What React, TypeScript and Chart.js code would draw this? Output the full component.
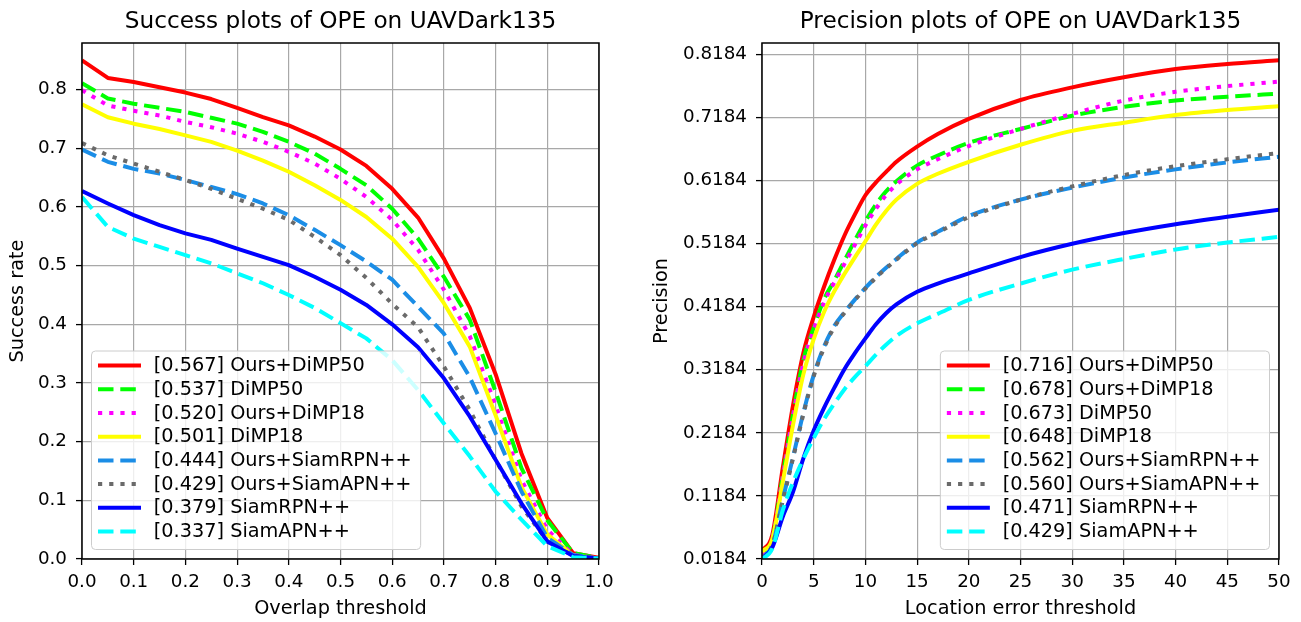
import React, { useEffect, useRef } from 'react';
import { Chart, registerables } from 'chart.js';

Chart.register(...registerables);

// ---------------- data ----------------
const successThresholds = [0, 0.05, 0.1, 0.15, 0.2, 0.25, 0.3, 0.35, 0.4, 0.45, 0.5, 0.55, 0.6, 0.65, 0.7, 0.75, 0.8, 0.85, 0.9, 0.95, 1.0];
const successNames = ['Ours+DiMP50', 'DiMP50', 'Ours+DiMP18', 'DiMP18', 'Ours+SiamRPN++', 'Ours+SiamAPN++', 'SiamRPN++', 'SiamAPN++'];
const successScores = ['0.567', '0.537', '0.520', '0.501', '0.444', '0.429', '0.379', '0.337'];
const successOursDiMP50 = [0.850, 0.820, 0.813, 0.804, 0.795, 0.784, 0.769, 0.753, 0.739, 0.720, 0.698, 0.670, 0.631, 0.582, 0.512, 0.428, 0.315, 0.180, 0.070, 0.010, 0.002];
const successDiMP50 = [0.811, 0.785, 0.776, 0.769, 0.762, 0.752, 0.742, 0.728, 0.711, 0.691, 0.665, 0.637, 0.597, 0.546, 0.481, 0.408, 0.285, 0.155, 0.066, 0.010, 0.002];
const successOursDiMP18 = [0.799, 0.773, 0.764, 0.756, 0.745, 0.736, 0.725, 0.711, 0.694, 0.674, 0.648, 0.617, 0.578, 0.527, 0.459, 0.380, 0.262, 0.135, 0.050, 0.007, 0.001];
const successDiMP18 = [0.775, 0.753, 0.742, 0.733, 0.722, 0.711, 0.696, 0.679, 0.660, 0.637, 0.612, 0.583, 0.546, 0.498, 0.436, 0.362, 0.245, 0.123, 0.042, 0.006, 0.001];
const successOursSiamRPN = [0.698, 0.677, 0.665, 0.657, 0.646, 0.634, 0.622, 0.606, 0.586, 0.561, 0.535, 0.507, 0.476, 0.430, 0.384, 0.310, 0.214, 0.115, 0.036, 0.007, 0.001];
const successOursSiamAPN = [0.709, 0.688, 0.674, 0.660, 0.646, 0.631, 0.614, 0.597, 0.578, 0.549, 0.518, 0.479, 0.435, 0.395, 0.328, 0.254, 0.169, 0.090, 0.030, 0.006, 0.001];
const successSiamRPN = [0.627, 0.606, 0.586, 0.569, 0.555, 0.544, 0.529, 0.515, 0.501, 0.481, 0.459, 0.433, 0.400, 0.361, 0.308, 0.243, 0.169, 0.095, 0.030, 0.005, 0.001];
const successSiamAPN = [0.617, 0.566, 0.546, 0.532, 0.518, 0.504, 0.487, 0.470, 0.450, 0.428, 0.402, 0.376, 0.339, 0.288, 0.231, 0.175, 0.115, 0.067, 0.022, 0.003, 0.001];
const successXTicks = [0, 0.1, 0.2, 0.3, 0.4, 0.5, 0.6, 0.7, 0.8, 0.9, 1.0];
const successYTicks = [0, 0.1, 0.2, 0.3, 0.4, 0.5, 0.6, 0.7, 0.8];

const precisionThresholds = [0, 1, 2, 3, 4, 5, 6, 7, 8, 9, 10, 11, 12, 13, 15, 17, 20, 25, 30, 35, 40, 45, 50];
const precisionNames = ['Ours+DiMP50', 'Ours+DiMP18', 'DiMP50', 'DiMP18', 'Ours+SiamRPN++', 'Ours+SiamAPN++', 'SiamRPN++', 'SiamAPN++'];
const precisionScores = ['0.716', '0.678', '0.673', '0.648', '0.562', '0.560', '0.471', '0.429'];
const precisionOursDiMP50 = [0.031, 0.057, 0.162, 0.262, 0.345, 0.402, 0.450, 0.493, 0.532, 0.565, 0.595, 0.615, 0.632, 0.648, 0.672, 0.692, 0.716, 0.746, 0.766, 0.782, 0.795, 0.803, 0.809];
const precisionOursDiMP18 = [0.025, 0.050, 0.150, 0.248, 0.334, 0.385, 0.430, 0.460, 0.492, 0.524, 0.554, 0.580, 0.601, 0.617, 0.642, 0.658, 0.678, 0.700, 0.721, 0.735, 0.745, 0.751, 0.756];
const precisionDiMP50 = [0.025, 0.050, 0.148, 0.245, 0.328, 0.382, 0.425, 0.457, 0.487, 0.517, 0.547, 0.573, 0.595, 0.612, 0.636, 0.652, 0.673, 0.700, 0.724, 0.745, 0.759, 0.768, 0.775];
const precisionDiMP18 = [0.030, 0.050, 0.140, 0.231, 0.311, 0.367, 0.410, 0.443, 0.471, 0.497, 0.522, 0.548, 0.570, 0.588, 0.613, 0.629, 0.648, 0.675, 0.697, 0.710, 0.722, 0.730, 0.736];
const precisionOursSiamRPN = [0.020, 0.040, 0.112, 0.180, 0.250, 0.310, 0.355, 0.388, 0.410, 0.430, 0.448, 0.465, 0.480, 0.494, 0.520, 0.537, 0.562, 0.588, 0.607, 0.623, 0.636, 0.647, 0.656];
const precisionOursSiamAPN = [0.020, 0.040, 0.110, 0.178, 0.248, 0.308, 0.353, 0.386, 0.409, 0.429, 0.447, 0.464, 0.479, 0.493, 0.519, 0.536, 0.560, 0.588, 0.609, 0.627, 0.641, 0.652, 0.662];
const precisionSiamRPN = [0.018, 0.037, 0.085, 0.125, 0.178, 0.222, 0.258, 0.290, 0.320, 0.345, 0.368, 0.390, 0.408, 0.422, 0.442, 0.455, 0.471, 0.497, 0.518, 0.535, 0.549, 0.561, 0.572];
const precisionSiamAPN = [0.018, 0.035, 0.095, 0.140, 0.177, 0.210, 0.240, 0.265, 0.288, 0.307, 0.324, 0.342, 0.358, 0.372, 0.392, 0.407, 0.429, 0.455, 0.477, 0.494, 0.509, 0.520, 0.529];
const precisionXTicks = [0, 5, 10, 15, 20, 25, 30, 35, 40, 45, 50];
const precisionYTicks = [0.0184, 0.1184, 0.2184, 0.3184, 0.4184, 0.5184, 0.6184, 0.7184, 0.8184];

// ---------------- styles ----------------
const FONT = '"DejaVu Sans", "Liberation Sans", sans-serif';
const DASH = [15.5, 6.8];
const DOT = [4.2, 7];
const LINE_W = 4;
const seriesStyles = [
  { color: '#ff0000', dash: [] as number[] },
  { color: '#00ff00', dash: DASH },
  { color: '#ff00ff', dash: DOT },
  { color: '#ffff00', dash: [] as number[] },
  { color: '#1b8de6', dash: DASH },
  { color: '#6a6a6a', dash: DOT },
  { color: '#0000ff', dash: [] as number[] },
  { color: '#00ffff', dash: DASH },
];

const framePlugin = {
  id: 'frameBox',
  afterDatasetsDraw(chart: any) {
    const { ctx, chartArea: a } = chart;
    ctx.save();
    ctx.strokeStyle = '#000';
    ctx.lineWidth = 1.5;
    ctx.strokeRect(a.left, a.top, a.right - a.left, a.bottom - a.top);
    ctx.restore();
  },
};

const titlePlugin = {
  id: 'plotTitle',
  afterDraw(chart: any, _args: any, opts: any) {
    const { ctx, chartArea: a } = chart;
    ctx.save();
    ctx.font = `23.2px ${FONT}`;
    ctx.fillStyle = '#000';
    ctx.textAlign = 'center';
    ctx.textBaseline = 'middle';
    ctx.fillText(opts.text, (a.left + a.right) / 2, 22);
    ctx.restore();
  },
};

const legendPlugin = {
  id: 'boxLegend',
  afterDraw(chart: any, _args: any, opts: any) {
    const { ctx, chartArea: a } = chart;
    const ds = chart.data.datasets;
    ctx.save();
    ctx.font = `19.3px ${FONT}`;
    let tw = 0;
    ds.forEach((d: any) => {
      tw = Math.max(tw, ctx.measureText(d.label).width);
    });
    const padL = 6.5, lineLen = 43, gap = 12.8, padR = 9;
    const rowH = 23.7, padT = 14.6, padB = 18;
    const w = padL + lineLen + gap + tw + padR;
    const h = padT + rowH * (ds.length - 1) + padB;
    const margin = 9.5;
    const bottom = a.bottom - margin;
    const left = opts.align === 'left' ? a.left + margin : a.right - margin - w;
    const top = bottom - h;
    const r = 4;
    ctx.beginPath();
    ctx.moveTo(left + r, top);
    ctx.lineTo(left + w - r, top);
    ctx.arcTo(left + w, top, left + w, top + r, r);
    ctx.lineTo(left + w, top + h - r);
    ctx.arcTo(left + w, top + h, left + w - r, top + h, r);
    ctx.lineTo(left + r, top + h);
    ctx.arcTo(left, top + h, left, top + h - r, r);
    ctx.lineTo(left, top + r);
    ctx.arcTo(left, top, left + r, top, r);
    ctx.closePath();
    ctx.fillStyle = 'rgba(255,255,255,0.8)';
    ctx.fill();
    ctx.strokeStyle = '#cccccc';
    ctx.lineWidth = 1;
    ctx.stroke();
    ds.forEach((d: any, i: number) => {
      const y = top + padT + i * rowH;
      ctx.beginPath();
      ctx.setLineDash(d.borderDash || []);
      ctx.lineDashOffset = 0;
      ctx.lineCap = 'butt';
      ctx.lineWidth = d.borderWidth;
      ctx.strokeStyle = d.borderColor;
      ctx.moveTo(left + padL, y);
      ctx.lineTo(left + padL + lineLen, y);
      ctx.stroke();
      ctx.setLineDash([]);
      ctx.fillStyle = '#000';
      ctx.textAlign = 'left';
      ctx.textBaseline = 'middle';
      ctx.fillText(d.label, left + padL + lineLen + gap, y + 0.5);
    });
    ctx.restore();
  },
};

type PlotSpec = {
  title: string;
  xLabel: string;
  yLabel: string;
  xs: number[];
  series: number[][];
  names: string[];
  scores: string[];
  xMin: number;
  xMax: number;
  yMin: number;
  yMax: number;
  xTicks: number[];
  yTicks: number[];
  xFmt: (v: number) => string;
  yFmt: (v: number) => string;
  yAxisWidth: number;
  yTitlePad: number;
  padRight: number;
  legendAlign: 'left' | 'right';
  smooth: boolean;
};

function buildConfig(p: PlotSpec): any {
  const tickFont = { family: FONT, size: 18.3 };
  const labelFont = { family: FONT, size: 19.3 };
  const grid = {
    color: '#a8a8a8',
    lineWidth: 1.2,
    tickColor: '#000',
    tickLength: 6,
    tickWidth: 1.3,
    drawTicks: true,
  };
  return {
    type: 'line',
    data: {
      datasets: p.series.map((vals, i) => ({
        label: `[${p.scores[i]}] ${p.names[i]}`,
        data: p.xs.map((x, j) => ({ x, y: vals[j] })),
        borderColor: seriesStyles[i].color,
        backgroundColor: seriesStyles[i].color,
        borderDash: seriesStyles[i].dash,
        borderWidth: LINE_W,
        borderCapStyle: 'butt',
        borderJoinStyle: 'round',
        pointRadius: 0,
        pointHoverRadius: 0,
        fill: false,
        tension: p.smooth ? 0.4 : 0,
        cubicInterpolationMode: p.smooth ? 'monotone' : 'default',
        clip: 0,
        order: -i,
      })),
    },
    options: {
      responsive: false,
      animation: false,
      devicePixelRatio: 1,
      events: [],
      layout: { padding: { left: 0, right: p.padRight, top: 43, bottom: 0 } },
      plugins: {
        legend: { display: false },
        tooltip: { enabled: false },
        title: { display: false },
        plotTitle: { text: p.title },
        boxLegend: { align: p.legendAlign },
      },
      scales: {
        x: {
          type: 'linear',
          min: p.xMin,
          max: p.xMax,
          afterBuildTicks: (s: any) => {
            s.ticks = p.xTicks.map((v) => ({ value: v }));
          },
          afterFit: (s: any) => {
            s.height = 63;
          },
          ticks: {
            autoSkip: false,
            maxRotation: 0,
            minRotation: 0,
            padding: 6,
            color: '#000',
            font: tickFont,
            callback: (v: any) => p.xFmt(Number(v)),
          },
          grid,
          border: { display: false },
          title: {
            display: true,
            text: p.xLabel,
            color: '#000',
            font: labelFont,
            padding: { top: 0, bottom: 1.5 },
          },
        },
        y: {
          type: 'linear',
          min: p.yMin,
          max: p.yMax,
          afterBuildTicks: (s: any) => {
            s.ticks = p.yTicks.map((v) => ({ value: v }));
          },
          afterFit: (s: any) => {
            s.width = p.yAxisWidth;
          },
          ticks: {
            autoSkip: false,
            padding: 9,
            color: '#000',
            font: tickFont,
            callback: (v: any) => p.yFmt(Number(v)),
          },
          grid,
          border: { display: false },
          title: {
            display: true,
            text: p.yLabel,
            color: '#000',
            font: labelFont,
            padding: { top: p.yTitlePad, bottom: 0 },
          },
        },
      },
    },
    plugins: [framePlugin, titlePlugin, legendPlugin],
  };
}

const successSpec: PlotSpec = {
  title: 'Success plots of OPE on UAVDark135',
  xLabel: 'Overlap threshold',
  yLabel: 'Success rate',
  xs: successThresholds,
  series: [successOursDiMP50, successDiMP50, successOursDiMP18, successDiMP18, successOursSiamRPN, successOursSiamAPN, successSiamRPN, successSiamAPN],
  names: successNames,
  scores: successScores,
  xMin: 0,
  xMax: 1,
  yMin: 0,
  yMax: 0.8795,
  xTicks: successXTicks,
  yTicks: successYTicks,
  xFmt: (v) => v.toFixed(1),
  yFmt: (v) => v.toFixed(1),
  yAxisWidth: 82,
  yTitlePad: 6.4,
  padRight: 41,
  legendAlign: 'left',
  smooth: false,
};

const precisionSpec: PlotSpec = {
  title: 'Precision plots of OPE on UAVDark135',
  xLabel: 'Location error threshold',
  yLabel: 'Precision',
  xs: precisionThresholds,
  series: [precisionOursDiMP50, precisionOursDiMP18, precisionDiMP50, precisionDiMP18, precisionOursSiamRPN, precisionOursSiamAPN, precisionSiamRPN, precisionSiamAPN],
  names: precisionNames,
  scores: precisionScores,
  xMin: 0,
  xMax: 50,
  yMin: 0.0184,
  yMax: 0.8363,
  xTicks: precisionXTicks,
  yTicks: precisionYTicks,
  xFmt: (v) => String(Math.round(v)),
  yFmt: (v) => v.toFixed(4),
  yAxisWidth: 122,
  yTitlePad: 10.4,
  padRight: 22,
  legendAlign: 'right',
  smooth: true,
};

function Plot({ spec, width, height }: { spec: PlotSpec; width: number; height: number }) {
  const ref = useRef<HTMLCanvasElement | null>(null);
  useEffect(() => {
    if (!ref.current) return;
    const chart = new Chart(ref.current, buildConfig(spec));
    return () => chart.destroy();
  }, [spec]);
  return <canvas ref={ref} width={width} height={height} style={{ display: 'block', width, height }} />;
}

export default function App() {
  useEffect(() => {
    Chart.defaults.font.family = FONT;
  }, []);
  return (
    <div style={{ position: 'absolute', left: 0, top: 0, width: 1301, height: 622, background: '#ffffff', overflow: 'hidden' }}>
      <div style={{ position: 'absolute', left: 0, top: 0, width: 640, height: 622 }}>
        <Plot spec={successSpec} width={640} height={622} />
      </div>
      <div style={{ position: 'absolute', left: 640, top: 0, width: 661, height: 622 }}>
        <Plot spec={precisionSpec} width={661} height={622} />
      </div>
    </div>
  );
}
